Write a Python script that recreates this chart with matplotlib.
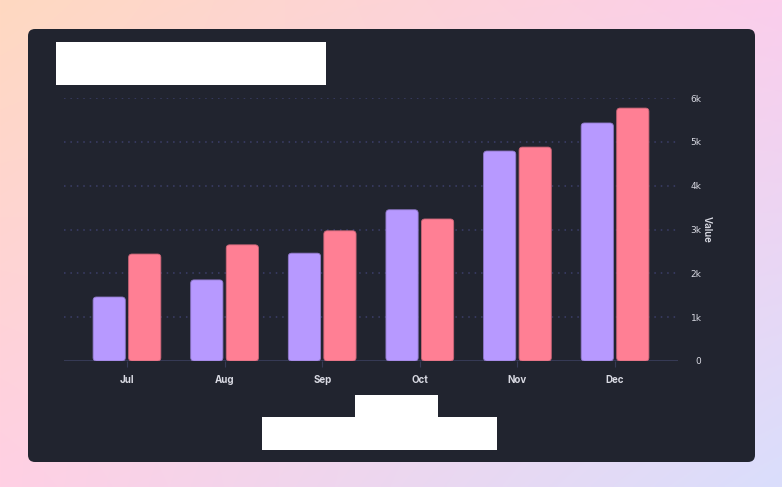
import numpy as np
import matplotlib.pyplot as plt
from matplotlib.patches import FancyBboxPatch, Rectangle

months = ["Jul", "Aug", "Sep", "Oct", "Nov", "Dec"]
series_a = [1460, 1850, 2460, 3450, 4790, 5430]
series_b = [2440, 2650, 2970, 3240, 4880, 5770]
yticks = [0, 1000, 2000, 3000, 4000, 5000, 6000]
ytick_labels = ["0", "1k", "2k", "3k", "4k", "5k", "6k"]

W, H = 782, 487
fig = plt.figure(figsize=(W / 100, H / 100), dpi=100)

# gradient background
bg = fig.add_axes([0, 0, 1, 1])
bg.set_axis_off()
corners = np.array([[[255, 217, 193], [251, 206, 236]],
                    [[255, 208, 228], [218, 222, 252]]]) / 255.0
t = np.linspace(0, 1, 200)
u = np.linspace(0, 1, 320)
tt, uu = np.meshgrid(t, u, indexing="ij")
img = ((1 - tt)[..., None] * ((1 - uu)[..., None] * corners[0, 0] + uu[..., None] * corners[0, 1])
       + tt[..., None] * ((1 - uu)[..., None] * corners[1, 0] + uu[..., None] * corners[1, 1]))
bg.imshow(img, extent=[0, W, 0, H], aspect="auto", origin="upper")
bg.set_xlim(0, W)
bg.set_ylim(0, H)

# dark card
card = FancyBboxPatch((28, H - 462), 727, 433, boxstyle="round,pad=0,rounding_size=7",
                      fc="#21242f", ec="none")
bg.add_patch(card)
# redacted boxes
bg.add_patch(Rectangle((56, H - 85), 270, 43, fc="white", ec="none"))
bg.add_patch(Rectangle((355, H - 417), 83, 22, fc="white", ec="none"))
bg.add_patch(Rectangle((262, H - 450), 235, 33, fc="white", ec="none"))

ax = fig.add_axes([64 / W, (H - 361) / H, (678 - 64) / W, (361 - 98) / H])
ax.set_facecolor("none")
x = np.arange(len(months))
ax.set_xlim(-0.645, len(months) - 1 + 0.645)
ax.set_ylim(0, 6000)

bw = 0.33
off = 0.182
px_per_x = (678 - 64) / (ax.get_xlim()[1] - ax.get_xlim()[0])
px_per_y = (361 - 98) / 6000
aspect = px_per_x / px_per_y
for vals, dx, col, ec in [(series_a, -off, "#b799ff", "#8f78c9"),
                          (series_b, off, "#ff7f94", "#c96577")]:
    for xi, v in zip(x, vals):
        p = FancyBboxPatch((xi + dx - bw / 2, 0), bw, v,
                           boxstyle="round,pad=0,rounding_size=0.035",
                           mutation_aspect=aspect, fc=col, ec=ec, lw=0.6, zorder=3)
        ax.add_patch(p)

for yv in yticks[1:]:
    ax.axhline(yv, color="#3c3f6a", lw=1.1, ls=(0, (1, 3.2)), zorder=1)
ax.axhline(0, color="#363a55", lw=1.5, zorder=2)

for s in ax.spines.values():
    s.set_visible(False)

ax.set_xticks(x)
ax.set_xticklabels(months, fontsize=7, fontweight="bold", color="#d9dae3", family="Inter")
ax.tick_params(axis="x", length=4, width=0.8, color="#363a55", pad=6)

ax.yaxis.tick_right()
ax.set_yticks(yticks)
ax.set_yticklabels(ytick_labels, fontsize=6.5, color="#d9dae3", ha="right")
ax.tick_params(axis="y", length=0, pad=17)

ax.yaxis.set_label_position("right")
ax.set_ylabel("Value", rotation=270, fontsize=7, color="#d9dae3", family="Inter",
              fontweight="semibold")
ax.yaxis.set_label_coords((712 - 64) / (678 - 64), 0.5)

fig.savefig("out.png", dpi=100)
